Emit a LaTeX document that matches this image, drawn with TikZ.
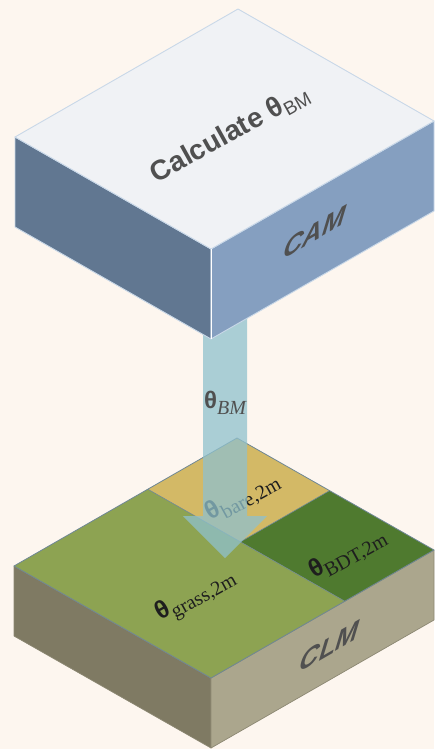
\documentclass[tikz,border=0pt]{standalone}
\usepackage{fontspec}
\setmainfont{Liberation Serif}
\setsansfont{Liberation Sans}
\usetikzlibrary{calc}

\definecolor{bg}{HTML}{FDF6EF}
\definecolor{camtop}{HTML}{F0F2F5}
\definecolor{camleft}{HTML}{617791}
\definecolor{camright}{HTML}{859FC0}
\definecolor{camedge}{HTML}{C9D8E8}
\definecolor{clmleft}{HTML}{7F7A63}
\definecolor{clmright}{HTML}{ABA68D}
\definecolor{clmedge}{HTML}{6F8795}
\definecolor{sideedge}{HTML}{8C8873}
\definecolor{grass}{HTML}{8DA352}
\definecolor{bare}{HTML}{D3B966}
\definecolor{bdt}{HTML}{4F7A2F}
\definecolor{flux}{HTML}{8FC1CD}
\definecolor{labgray}{HTML}{505050}
\definecolor{landtext}{HTML}{1E1E1E}

% theta with a serif subscript, used for the land-unit labels
\newcommand\landlbl[1]{{\sffamily\bfseries\fontsize{25}{25}\selectfont θ}\raisebox{-6pt}{\fontsize{20}{20}\selectfont #1}}

\begin{document}
\begin{tikzpicture}[x=1pt,y=-1pt,
  camface/.style={draw=camedge,line width=0.9pt,line join=round},
  clmface/.style={draw=sideedge,line width=0.7pt,line join=round},
  tileedge/.style={draw=clmedge,line width=0.8pt,line join=round},
  sidelabel/.style={font=\sffamily\bfseries\fontsize{31}{31}\selectfont,
    text=labgray,inner sep=0pt,cm={0.866,0.5,0.3,1,(0,0)}},
  landlabel/.style={inner sep=0pt,rotate=29,text=landtext},
]
\fill[bg] (0,0) rectangle (434,749);
\useasboundingbox (0,0) rectangle (434,749);

% ---- CLM block: corners of the top face and the bottom edge
\coordinate (lB) at (237,438);
\coordinate (lL) at (14,566);
\coordinate (lR) at (434,550);
\coordinate (lF) at (211,678);
\coordinate (lLb) at (14,636);
\coordinate (lFb) at (211,748);
\coordinate (lRb) at (434,620);

% split of the top face into land units
\coordinate (p1) at ($(lB)!0.4!(lL)$);
\coordinate (p2) at ($(lB)!0.47!(lR)$);
\coordinate (p3) at ($(lR)!0.4!(lF)$);
\coordinate (pc) at ($(p2)+(p1)-(lB)$);

\fill[clmleft,clmface] (lL) -- (lF) -- (lFb) -- (lLb) -- cycle;
\fill[clmright,clmface] (lF) -- (lR) -- (lRb) -- (lFb) -- cycle;

\fill[bare] (lB) -- (p2) -- (pc) -- (p1) -- cycle;
\fill[bdt] (p2) -- (lR) -- (p3) -- (pc) -- cycle;
\fill[grass] (p1) -- (pc) -- (p3) -- (lF) -- (lL) -- cycle;
\draw[tileedge,line width=0.6pt] (p1) -- (p3) (p2) -- (pc);
\draw[tileedge] (lB) -- (lR) -- (lF) -- (lL) -- cycle;

\node[sidelabel] (clm) at (330,646) {CLM};

\node[landlabel] (grasslbl) at (196,596) {\landlbl{grass,2m}};
\node[landlabel] (bdtlbl) at (348,555) {\landlbl{BDT,2m}};
\node[landlabel] (barelbl) at (243,498) {\landlbl{bare,2m}};

% ---- flux arrow from the CAM block down onto the CLM surface
\coordinate (arrS) at (225,305);
\coordinate (arrT) at (225,558);
\fill[flux,fill opacity=0.75]
  ($(arrS)+(-22,0)$) -- ($(arrT)+(-22,-42)$) -- ($(arrT)+(-42,-42)$)
  -- (arrT) -- ($(arrT)+(42,-42)$) -- ($(arrT)+(22,-42)$)
  -- ($(arrS)+(22,0)$) -- cycle;
\node[inner sep=0pt,text=labgray] (fluxlbl) at (225,403)
  {{\sffamily\bfseries\fontsize{24}{24}\selectfont θ}\raisebox{-6pt}{\fontsize{20}{20}\selectfont\itshape BM}};

% ---- CAM block
\coordinate (cB) at (238,9);
\coordinate (cL) at (15,137);
\coordinate (cR) at (434,121);
\coordinate (cF) at (211,249);
\coordinate (cLb) at (15,227);
\coordinate (cFb) at (211,339);
\coordinate (cRb) at (434,211);

\fill[camleft,camface] (cL) -- (cF) -- (cFb) -- (cLb) -- cycle;
\fill[camright,camface] (cF) -- (cR) -- (cRb) -- (cFb) -- cycle;
\fill[camtop,camface] (cB) -- (cR) -- (cF) -- (cL) -- cycle;
\draw[white,line width=1pt] (cF) -- (cFb);

\node[inner sep=0pt,rotate=29,text=labgray] (calc) at (230,134)
  {\sffamily\bfseries\fontsize{28}{28}\selectfont Calculate θ\raisebox{-5pt}{\fontsize{19}{19}\selectfont\mdseries BM}};
\node[sidelabel] (cam) at (315,232) {CAM};
\end{tikzpicture}
\end{document}
